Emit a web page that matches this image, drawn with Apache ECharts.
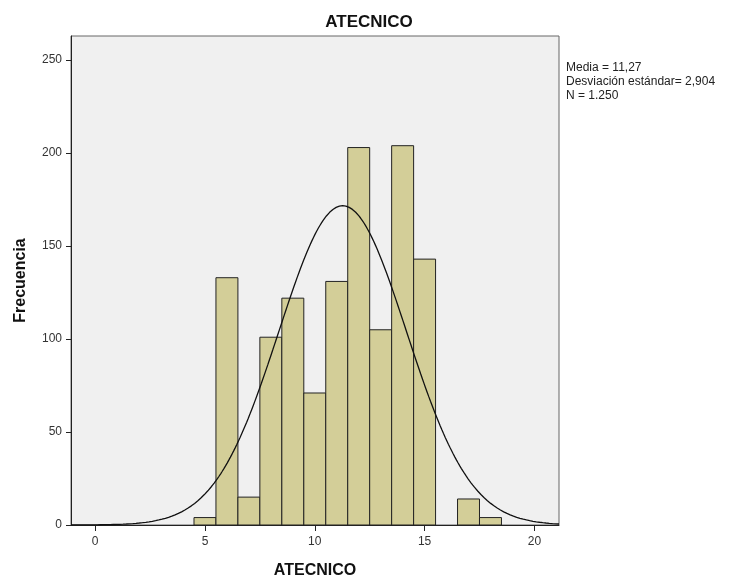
<!DOCTYPE html>
<html>
<head>
<meta charset="utf-8">
<script src="https://cdn.jsdelivr.net/npm/echarts@6/dist/echarts.min.js"></script>
<style>html,body{margin:0;padding:0;background:#fff}#c{width:734px;height:579px}</style>
</head>
<body>
<div id="c"></div>
<script>
// Histogram data (bin centers and frequencies)
var binCenters = [5, 6, 7, 8, 9, 10, 11, 12, 13, 14, 15, 16, 17, 18];
var frequencies = [4, 133, 15, 101, 122, 71, 131, 203, 105, 204, 143, 0, 14, 4];
var xTicks = [0, 5, 10, 15, 20];
var yTicks = [0, 50, 100, 150, 200, 250];
// Summary statistics shown on the chart
var mean = 11.27;
var sd = 2.904;
var n = 1250;
var binWidth = 1;
var statLines = ['Media = 11,27', 'Desviación estándar= 2,904', 'N = 1.250'];

var xMin = -1.1, xMax = 21.12;

// Normal curve from the stated mean, sd and N
var curve = [];
var steps = 300;
for (var i = 0; i <= steps; i++) {
  var x = xMin + (xMax - xMin) * i / steps;
  var z = (x - mean) / sd;
  curve.push([x, n * binWidth / (sd * Math.sqrt(2 * Math.PI)) * Math.exp(-0.5 * z * z)]);
}

var barData = binCenters.map(function (c, i) { return [c, frequencies[i]]; }).filter(function (d) { return d[1] > 0; });

var chart = echarts.init(document.getElementById('c'));
var font = 'Liberation Sans, Arial, sans-serif';
chart.setOption({
  animation: false,
  title: {
    text: 'ATECNICO', left: 364, top: 9, textAlign: 'center',
    textStyle: { fontFamily: font, fontSize: 17, fontWeight: 'bold', color: '#111' }
  },
  grid: {
    left: 71, right: 175, top: 36, bottom: 54, show: true, outerBoundsMode: 'none', containLabel: false,
    backgroundColor: '#F0F0F0', borderColor: '#666', borderWidth: 1
  },
  xAxis: {
    type: 'value', min: xMin, max: xMax,
    name: 'ATECNICO', nameLocation: 'middle', nameGap: 38,
    nameTextStyle: { fontFamily: font, fontSize: 16, fontWeight: 'bold', color: '#111' },
    axisLine: { show: true, onZero: false, lineStyle: { color: '#222', width: 1 } },
    axisTick: { show: true, length: 6, lineStyle: { color: '#222' }, customValues: xTicks },
    axisLabel: { fontFamily: font, fontSize: 12, color: '#333', margin: 11, customValues: xTicks },
    splitLine: { show: false }
  },
  yAxis: {
    type: 'value', min: 0, max: 263,
    name: 'Frecuencia', nameLocation: 'middle', nameGap: 42, nameRotate: 90,
    nameTextStyle: { fontFamily: font, fontSize: 16, fontWeight: 'bold', color: '#111' },
    axisLine: { show: true, onZero: false, lineStyle: { color: '#222', width: 1 } },
    axisTick: { show: true, length: 5, lineStyle: { color: '#222' }, customValues: yTicks },
    axisLabel: { fontFamily: font, fontSize: 12, color: '#333', margin: 9, customValues: yTicks },
    splitLine: { show: false }
  },
  graphic: [{
    type: 'text', left: 566, top: 61,
    style: { text: statLines.join('\n'), fontFamily: font, fontSize: 12, lineHeight: 14, fill: '#222' }
  }],
  series: [{
    type: 'custom',
    data: barData,
    renderItem: function (params, api) {
      var c = api.value(0), v = api.value(1);
      var p1 = api.coord([c - binWidth / 2, v]);
      var p2 = api.coord([c + binWidth / 2, 0]);
      return {
        type: 'rect',
        shape: { x: p1[0], y: p1[1], width: p2[0] - p1[0], height: p2[1] - p1[1] },
        style: { fill: '#D3CE98', stroke: '#222', lineWidth: 1 }
      };
    },
    z: 2
  }, {
    type: 'line', data: curve, showSymbol: false, smooth: false,
    lineStyle: { color: '#111', width: 1.3 }, z: 3, silent: true
  }]
});
</script>
</body>
</html>
